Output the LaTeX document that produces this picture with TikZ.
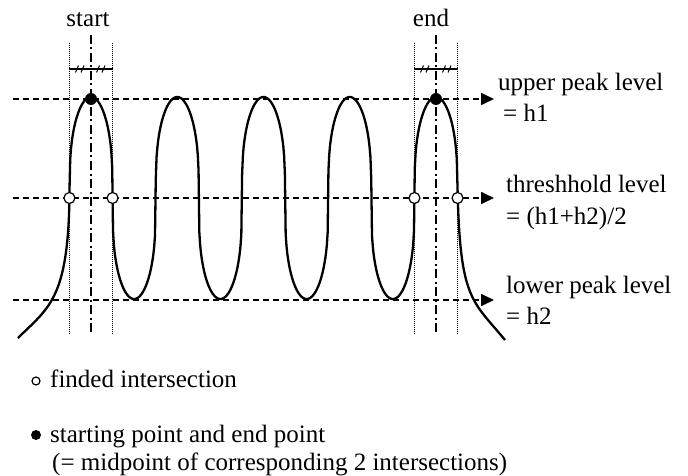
\documentclass[tikz,border=0pt]{standalone}
\usepackage{fontspec}
\setmainfont{Liberation Serif}
\usetikzlibrary{arrows.meta,positioning}
\tikzset{lvl/.style={line width=1.7pt,dash pattern=on 6pt off 4pt,-{Triangle[length=13pt,width=12pt]}},
  guide/.style={line width=1.4pt,dash pattern=on 1pt off 1pt},
  axisline/.style={line width=1.8pt,dash pattern=on 9pt off 3.5pt on 2pt off 3.5pt},
  wave/.style={line width=2.3pt,line join=round},
  hit/.style={circle,draw,fill=white,line width=1.2pt,minimum size=11pt,inner sep=0pt},
  peakdot/.style={circle,fill,minimum size=12pt,inner sep=0pt},
  lbl/.style={anchor=base west,inner sep=0pt},
  declare function={sq(\t)=(cos(\t)>=0?1:-1)*exp(0.33*ln(abs(cos(\t))+0.00002));}}

\begin{document}
\begin{tikzpicture}[x=1pt,y=-1pt,font=\fontsize{25}{28}\selectfont]
\useasboundingbox (0,0) rectangle (688,476);
\coordinate (upL) at (13,99);\coordinate (upR) at (494,99);
\coordinate (thL) at (13,198);\coordinate (thR) at (494,198);
\coordinate (loL) at (13,300);\coordinate (loR) at (494,300);
\draw[lvl] (upL)--(upR);
\draw[lvl] (thL)--(thR);
\draw[lvl] (loL)--(loR);
\foreach \g in {69.4,112.6,414.4,457.6} \draw[guide] (\g,43)--(\g,335);
\foreach \g in {91,436} \draw[axisline] (\g,35)--(\g,335);
\draw[line width=1.1pt] (69.4,69)--(112.6,69) (414.4,69)--(457.6,69);
\foreach \m in {80,101,425,447}
  \draw[line width=1pt] (\m-4.5,72.5)--(\m-1.5,65.5) (\m+1,72.5)--(\m+4,65.5);
\draw[wave] (18,338) .. controls (48,308) and (68,300) .. (69.44,198)
  -- plot[domain=69.44:457.56,samples=500] (\x,{198-101*sq(4.17391*(\x-91))})
  .. controls (460,300) and (472,300) .. (505,340);
\node[hit] (hitA) at (69.44,198) {};\node[hit] (hitB) at (112.56,198) {};
\node[hit] (hitC) at (414.44,198) {};\node[hit] (hitD) at (457.56,198) {};
\node[peakdot] (startpt) at (91,99) {};\node[peakdot] (endpt) at (436,99) {};
\node[anchor=base] (startlbl) at (88,27) {start};
\node[anchor=base] (endlbl) at (431,27) {end};
\node[lbl] (uptxt) at (498,91) {upper peak level};
\node[lbl] (upval) at (503,122) {= h1};
\node[lbl] (thtxt) at (506,193) {threshhold level};
\node[lbl] (thval) at (506,224) {= (h1+h2)/2};
\node[lbl] (lotxt) at (506,293) {lower peak level};
\node[lbl] (loval) at (506,324) {= h2};
\node[hit,minimum size=8pt] (keyhit) at (36,381) {};
\node[lbl] (keyhittxt) at (50,387) {finded intersection};
\node[peakdot,minimum size=10pt] (keydot) at (36,435) {};
\node[lbl] (keydottxt) at (50,442) {starting point and end point};
\node[lbl] (keynote) at (52,470) {(= midpoint of corresponding 2 intersections)};
\end{tikzpicture}
\end{document}
